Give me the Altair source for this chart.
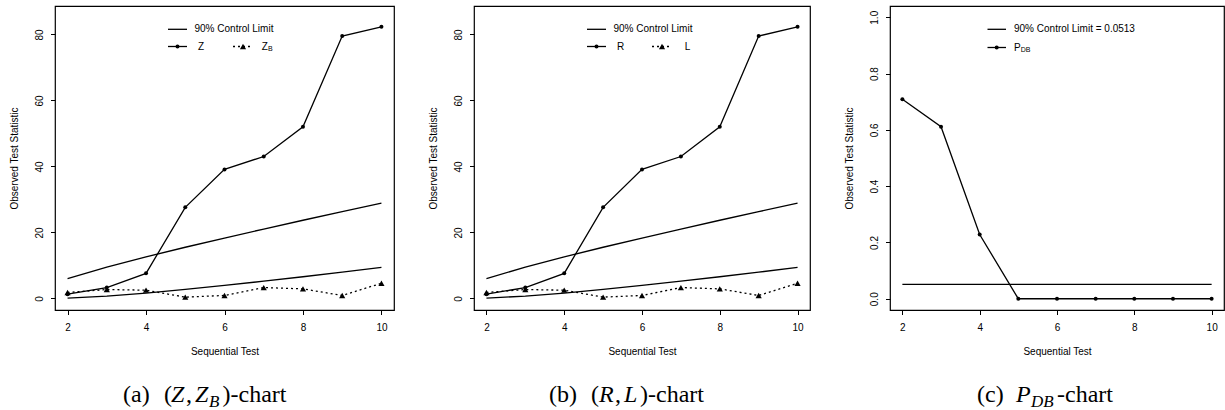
import altair as alt
import pandas as pd

# ---- values -------------------------------------------------------------
tests = [2, 3, 4, 5, 6, 7, 8, 9, 10]

# 90% control limits (chi-square 5% / 95% points, df = 2, 4, ..., 18)
upper_limit = [5.99, 9.49, 12.59, 15.51, 18.31, 21.03, 23.69, 26.30, 28.87]
lower_limit = [0.10, 0.71, 1.64, 2.73, 3.94, 5.23, 6.57, 7.96, 9.39]

# observed statistics
z_stat = [1.3, 3.3, 7.6, 27.6, 39.1, 43.0, 52.0, 79.5, 82.3]
zb_stat = [1.8, 2.7, 2.5, 0.4, 0.9, 3.3, 2.9, 0.9, 4.6]
pdb_stat = [0.709, 0.611, 0.228, 0.0, 0.0, 0.0, 0.0, 0.0, 0.0]
pdb_limit = 0.0513

x_ticks = [2, 4, 6, 8, 10]
stat_ticks = [0, 20, 40, 60, 80]
prob_ticks = [0.0, 0.2, 0.4, 0.6, 0.8, 1.0]

# ---- styling ------------------------------------------------------------
SANS = "Liberation Sans"
SERIF = "Liberation Serif"
H = 304
LW = 1.3
ONE = alt.Data(values=[{"k": 1}])

stat_df = pd.DataFrame({"test": tests, "upper": upper_limit, "lower": lower_limit,
                        "s1": z_stat, "s2": zb_stat})
prob_df = pd.DataFrame({"test": tests, "p": pdb_stat,
                        "limit": [pdb_limit] * len(tests)})


def x_enc(width):
    return alt.X("test:Q",
                 scale=alt.Scale(domain=[1.68, 10.32], nice=False, zero=False),
                 axis=alt.Axis(values=x_ticks, title="Sequential Test", grid=False,
                               domain=False, tickSize=4.5, tickColor="black",
                               labelFont=SANS, labelFontSize=10, labelColor="black",
                               labelPadding=13, labelBaseline="middle", labelAngle=0,
                               labelFlush=False, labelOverlap=False,
                               titleFont=SANS, titleFontSize=10, titleFontWeight="normal",
                               titleColor="black", titleX=width / 2, titleY=41.4,
                               titleAlign="center", titleBaseline="middle"))


def y_enc(field, domain, ticks, fmt):
    return alt.Y(field,
                 scale=alt.Scale(domain=domain, nice=False, zero=False),
                 axis=alt.Axis(values=ticks, format=fmt, title="Observed Test Statistic",
                               grid=False, domain=False, tickSize=4.5, tickColor="black",
                               labelFont=SANS, labelFontSize=10, labelColor="black",
                               labelAngle=270, labelAlign="center", labelBaseline="middle",
                               labelPadding=11.5, labelFlush=False, labelOverlap=False,
                               titleFont=SANS, titleFontSize=10, titleFontWeight="normal",
                               titleColor="black", titleX=-40.5, titleY=H / 2,
                               titleAngle=270, titleAlign="center", titleBaseline="middle"))


def label(txt, x, y, size=10, font=SANS, style="normal", baseline="middle", dy=0):
    return alt.Chart(ONE).mark_text(
        text=txt, font=font, fontSize=size, fontStyle=style, align="left",
        baseline=baseline, dy=dy, color="black"
    ).encode(x=alt.value(x), y=alt.value(y))


def segment(x1, x2, y, dash=None):
    kw = dict(color="black", strokeWidth=LW)
    if dash:
        kw["strokeDash"] = dash
    return alt.Chart(ONE).mark_rule(**kw).encode(
        x=alt.value(x1), x2=alt.value(x2), y=alt.value(y))


def symbol(x, y, shape, size):
    return alt.Chart(ONE).mark_point(shape=shape, filled=True, size=size,
                                     color="black", opacity=1).encode(
        x=alt.value(x), y=alt.value(y))


def caption(parts, x0):
    # parts: (text, offset, italic, subscript)
    layers = []
    for txt, off, ital, sub in parts:
        layers.append(label(txt, x0 + off, 396, size=17 if sub else 24, font=SERIF,
                            style="italic" if ital else "normal",
                            baseline="alphabetic", dy=5 if sub else 0))
    return layers


def stat_panel(width, s1_name, s2_name, s2_sub, s2_x, cap_parts, cap_x):
    X = x_enc(width)
    Y = lambda f: y_enc(f, [-3.5, 88.6], stat_ticks, "d")
    base = alt.Chart(stat_df)
    up = base.mark_line(color="black", strokeWidth=LW).encode(x=X, y=Y("upper:Q"))
    lo = base.mark_line(color="black", strokeWidth=LW).encode(x=X, y=Y("lower:Q"))
    l1 = base.mark_line(color="black", strokeWidth=LW).encode(x=X, y=Y("s1:Q"))
    p1 = base.mark_point(shape="circle", filled=True, size=16, color="black",
                         opacity=1).encode(x=X, y=Y("s1:Q"))
    l2 = base.mark_line(color="black", strokeWidth=LW, strokeDash=[2, 3]).encode(
        x=X, y=Y("s2:Q"))
    p2 = base.mark_point(shape="triangle-up", filled=True, size=38, color="black",
                         opacity=1).encode(x=X, y=Y("s2:Q"))
    legend = [
        segment(113, 132, 23.3),
        label("90% Control Limit", 139.5, 23.3),
        segment(113, 132, 40.5),
        symbol(122.5, 40.5, "circle", 16),
        label(s1_name, 143, 40.5),
        segment(178, 198, 40.5, dash=[2, 3]),
        symbol(188, 40.5, "triangle-up", 38),
        label(s2_name, s2_x, 40.5),
    ]
    if s2_sub:
        legend.append(label(s2_sub, s2_x + 6.3, 40.5, size=7, dy=2.5))
    return alt.layer(up, lo, l1, l2, p1, p2, *legend,
                     *caption(cap_parts, cap_x)).properties(width=width, height=H)


def prob_panel(width, cap_parts, cap_x):
    X = x_enc(width)
    Y = lambda f: y_enc(f, [-0.04, 1.04], prob_ticks, ".1f")
    base = alt.Chart(prob_df)
    lim = base.mark_line(color="black", strokeWidth=LW).encode(x=X, y=Y("limit:Q"))
    ln = base.mark_line(color="black", strokeWidth=LW).encode(x=X, y=Y("p:Q"))
    pt = base.mark_point(shape="circle", filled=True, size=16, color="black",
                         opacity=1).encode(x=X, y=Y("p:Q"))
    legend = [
        segment(97.5, 116, 23.3),
        label("90% Control Limit = 0.0513", 124, 23.3),
        segment(97.5, 116, 41.5),
        symbol(106.7, 41.5, "circle", 16),
        label("P", 124, 41.5),
        label("DB", 130.7, 41.5, size=7, dy=2.5),
    ]
    return alt.layer(lim, ln, pt, *legend,
                     *caption(cap_parts, cap_x)).properties(width=width, height=H)


cap_a = [("(a)", 0, False, False), ("(", 41, False, False), ("Z", 48, True, False),
         (",", 63, False, False), ("Z", 72, True, False), ("B", 86, True, True),
         (")", 99.5, False, False), ("-chart", 107.5, False, False)]
cap_b = [("(b)", 0, False, False), ("(", 42, False, False), ("R", 50, True, False),
         (",", 66, False, False), ("L", 75, True, False), (")", 91, False, False),
         ("-chart", 99, False, False)]
cap_c = [("(c)", 0, False, False), ("P", 39, True, False), ("DB", 54, True, True),
         ("-chart", 80, False, False)]

panel_a = stat_panel(339, "Z", "Z", "B", 206.7, cap_a, 122 - 54)
panel_b = stat_panel(336, "R", "L", None, 210.7, cap_b, 548 - 473)
panel_c = prob_panel(334, cap_c, 976 - 889)

chart = alt.hconcat(panel_a, panel_b, panel_c, spacing=80, bounds="flush").properties(
    padding={"left": 8, "top": 5, "right": 0, "bottom": 0},
    background="white",
).configure_view(stroke="black", strokeWidth=1.2)

chart.save("out.html", embed_options={"renderer": "svg", "actions": False})
